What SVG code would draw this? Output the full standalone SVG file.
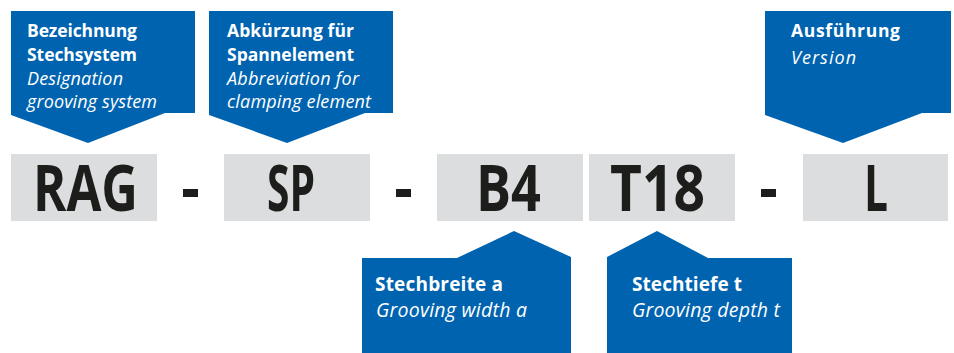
<svg xmlns="http://www.w3.org/2000/svg" width="954" height="353" viewBox="0 0 954 353">
<style>
.call{fill:#0063af}
.box{fill:#dcdddf}
.big{font-family:"Open Sans","Liberation Sans",sans-serif;font-weight:bold;font-size:64px;fill:#1d1d1b}
.b{font-family:"Open Sans","Liberation Sans",sans-serif;font-weight:bold;font-size:17.5px;fill:#ffffff}
.i{font-family:"Open Sans","Liberation Sans",sans-serif;font-style:italic;font-size:18px;fill:#ffffff}
.b2{font-family:"Open Sans","Liberation Sans",sans-serif;font-weight:bold;font-size:19px;fill:#ffffff}
.i2{font-family:"Open Sans","Liberation Sans",sans-serif;font-style:italic;font-size:19.5px;fill:#ffffff}
.dash{fill:#1d1d1b}
</style>
<rect width="954" height="353" fill="#ffffff"/>
<g id="code">
<g id="rag"><rect class="box" x="11" y="154" width="146" height="67"/><text class="big" x="33" y="211" textLength="105" lengthAdjust="spacingAndGlyphs">RAG</text></g>
<rect class="dash" x="183" y="189" width="15" height="8"/>
<g id="sp"><rect class="box" x="224" y="154" width="146" height="67"/><text class="big" x="267" y="211" textLength="48" lengthAdjust="spacingAndGlyphs">SP</text></g>
<rect class="dash" x="396" y="189" width="15" height="8"/>
<g id="b4"><rect class="box" x="437" y="154" width="146" height="67"/><text class="big" x="476" y="211" textLength="65" lengthAdjust="spacingAndGlyphs">B4</text></g>
<g id="t18"><rect class="box" x="589" y="154" width="146" height="67"/><text class="big" x="610" y="211" textLength="95" lengthAdjust="spacingAndGlyphs">T18</text></g>
<rect class="dash" x="761" y="189" width="15" height="8"/>
<g id="l"><rect class="box" x="803" y="154" width="145" height="67"/><text class="big" x="864" y="211" textLength="24" lengthAdjust="spacingAndGlyphs">L</text></g>
</g>
<g id="callout-system">
<polygon class="call" points="11,11 195,11 195,113 165,113 88,143 11,115"/>
<text class="b" x="27" y="37" textLength="110">Bezeichnung</text>
<text class="b" x="27" y="61" textLength="110">Stechsystem</text>
<text class="i" x="27" y="85" textLength="96">Designation</text>
<text class="i" x="27" y="108" textLength="130">grooving system</text>
</g>
<g id="callout-clamp">
<polygon class="call" points="209,11 393,11 393,113 365,113 287,143 209,115"/>
<text class="b" x="227" y="37" textLength="127">Abkürzung für</text>
<text class="b" x="227" y="61" textLength="127">Spannelement</text>
<text class="i" x="227" y="85" textLength="132">Abbreviation for</text>
<text class="i" x="227" y="108" textLength="144">clamping element</text>
</g>
<g id="callout-version">
<polygon class="call" points="765,11 951,11 951,113 922,113 843,143 765,115"/>
<text class="b" x="791" y="37" textLength="109">Ausführung</text>
<text class="i" x="791" y="64" textLength="65">Version</text>
</g>
<g id="callout-width">
<polygon class="call" points="362,258 457,258 514,231 571,257 571,353 362,353"/>
<text class="b2" x="375" y="291" textLength="128">Stechbreite a</text>
<text class="i2" x="376" y="317" textLength="151">Grooving width a</text>
</g>
<g id="callout-depth">
<polygon class="call" points="607,257 657,231 708,258 792,258 792,353 607,353"/>
<text class="b2" x="632" y="291" textLength="110">Stechtiefe t</text>
<text class="i2" x="632" y="317" textLength="148">Grooving depth t</text>
</g>
<g id="connectors"></g>
</svg>
